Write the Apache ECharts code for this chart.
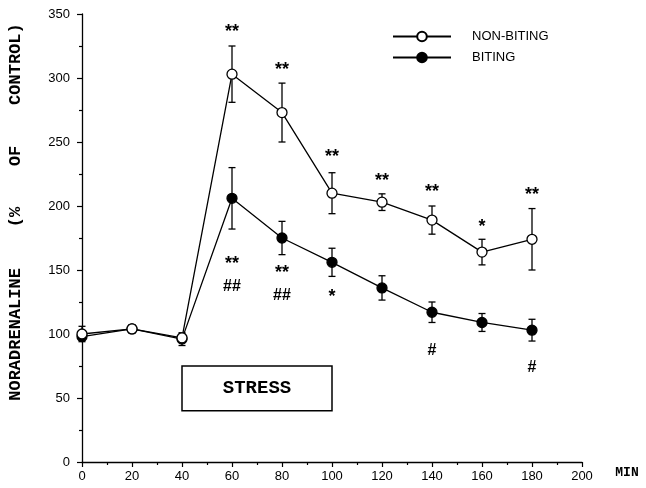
<!DOCTYPE html>
<html>
<head>
<meta charset="utf-8">
<script src="https://cdn.jsdelivr.net/npm/echarts@6/dist/echarts.min.js"></script>
<style>html,body{margin:0;padding:0;background:#fff;}#c{width:646px;height:488px;}</style>
</head>
<body>
<div id="c"></div>
<script>
// ---- data ----
const minutes = [0, 20, 40, 60, 80, 100, 120, 140, 160, 180];
const nonBiting = [100, 104, 97, 303, 273, 210, 203, 189, 164, 174];
const nonBitingErr = [6, 3, 3, 22, 23, 16, 6.5, 11, 10, 24];
const biting = [98, 104, 96, 206, 175, 156, 136, 117, 109, 103];
const bitingErr = [3, 3, 5, 24, 13, 11, 9.5, 8, 7, 8.5];
const seriesNames = ['NON-BITING', 'BITING'];
// significance marks: [minute, value-position, text]
const marksAbove = [[60, 339, '**'], [80, 309, '**'], [100, 241, '**'], [120, 223, '**'], [140, 214, '**'], [160, 187, '*'], [180, 212, '**']];
const marksBelow = [[60, 158, '**'], [60, 137, '##'], [80, 151, '**'], [80, 130, '##'], [100, 132, '*'], [140, 87, '#'], [180, 74, '#']];
// stress period box: [xStart, xEnd, yLow, yHigh, label]
const stressBox = [[40, 100, 40, 75, 'STRESS']];
const xTicks = { min: 0, max: 200, interval: 20 };
const yTicks = { min: 0, max: 350, interval: 50 };
const yTitle = 'NORADRENALINE    (%    OF    CONTROL)';
const xTitle = 'MIN';

// ---- build ----
const chart = echarts.init(document.getElementById('c'));
const lineData = (vals) => minutes.map((m, i) => [m, vals[i]]);
const errData = (vals, errs) => minutes.map((m, i) => [m, vals[i] - errs[i], vals[i] + errs[i]]);

function errRender(params, api) {
  const x = api.value(0);
  const lo = api.coord([x, api.value(1)]);
  const hi = api.coord([x, api.value(2)]);
  const w = 3.5;
  const st = { stroke: '#000', lineWidth: 1.3 };
  return {
    type: 'group',
    children: [
      { type: 'line', shape: { x1: lo[0], y1: lo[1], x2: hi[0], y2: hi[1] }, style: st },
      { type: 'line', shape: { x1: lo[0] - w, y1: lo[1], x2: lo[0] + w, y2: lo[1] }, style: st },
      { type: 'line', shape: { x1: hi[0] - w, y1: hi[1], x2: hi[0] + w, y2: hi[1] }, style: st }
    ]
  };
}

function markRender(params, api) {
  const p = api.coord([api.value(0), api.value(1)]);
  const txt = api.value(2);
  const isStar = String(txt).indexOf('*') >= 0;
  return {
    type: 'text',
    x: p[0], y: p[1] + (isStar ? 4 : 0),
    style: {
      text: txt, align: 'center', verticalAlign: 'middle',
      font: isStar ? 'bold 18px "Liberation Sans", Arial, sans-serif' : 'bold 16px "Liberation Sans", Arial, sans-serif',
      fill: '#000'
    }
  };
}

function boxRender(params, api) {
  const a = api.coord([api.value(0), api.value(3)]);
  const b = api.coord([api.value(1), api.value(2)]);
  return {
    type: 'group',
    children: [
      { type: 'rect', shape: { x: a[0], y: a[1], width: b[0] - a[0], height: b[1] - a[1] },
        style: { fill: '#fff', stroke: '#000', lineWidth: 1.5 } },
      { type: 'text', x: (a[0] + b[0]) / 2, y: (a[1] + b[1]) / 2,
        style: { text: api.value(4), align: 'center', verticalAlign: 'middle',
          font: 'bold 19px "Liberation Mono", "Courier New", monospace', fill: '#000' } }
    ]
  };
}

const sym = 10;
chart.setOption({
  animation: false,
  backgroundColor: '#fff',
  grid: { left: 82, right: 64, top: 14, bottom: 26 },
  legend: {
    data: seriesNames,
    orient: 'vertical',
    left: 392, top: 30, padding: 0,
    itemWidth: 58, itemHeight: 12, itemGap: 8,
    textStyle: { color: '#000', fontSize: 13, fontFamily: '"Liberation Sans", Arial, sans-serif', padding: [0, 0, 0, 16] }
  },
  xAxis: {
    type: 'value', min: xTicks.min, max: xTicks.max, interval: xTicks.interval,
    axisLine: { show: true, onZero: false, lineStyle: { color: '#000', width: 1.3 } },
    axisTick: { show: true, length: 5, lineStyle: { color: '#000', width: 1.2 } },
    minorTick: { show: true, splitNumber: 2, length: 3, lineStyle: { color: '#000', width: 1.2 } },
    splitLine: { show: false },
    axisLabel: { color: '#000', fontSize: 13, margin: 8, fontFamily: '"Liberation Sans", Arial, sans-serif' }
  },
  yAxis: {
    type: 'value', min: yTicks.min, max: yTicks.max, interval: yTicks.interval,
    axisLine: { show: true, lineStyle: { color: '#000', width: 1.3 } },
    axisTick: { show: true, length: 5, lineStyle: { color: '#000', width: 1.2 } },
    minorTick: { show: true, splitNumber: 2, length: 3, lineStyle: { color: '#000', width: 1.2 } },
    splitLine: { show: false },
    axisLabel: { color: '#000', fontSize: 13, margin: 12, fontFamily: '"Liberation Sans", Arial, sans-serif' }
  },
  graphic: [
    { type: 'text', x: 16, y: 212, rotation: Math.PI / 2,
      style: { text: yTitle, align: 'center', verticalAlign: 'middle',
        font: 'bold 17px "Liberation Mono", "Courier New", monospace', fill: '#000' } },
    { type: 'text', x: 627, y: 473,
      style: { text: xTitle, align: 'center', verticalAlign: 'middle',
        font: 'bold 13px "Liberation Mono", "Courier New", monospace', fill: '#000' } }
  ],
  series: [
    { type: 'custom', name: 'stress', renderItem: boxRender, data: stressBox, z: 1, silent: true },
    { type: 'custom', name: 'errNB', renderItem: errRender, data: errData(nonBiting, nonBitingErr), z: 2, silent: true },
    { type: 'custom', name: 'errB', renderItem: errRender, data: errData(biting, bitingErr), z: 2, silent: true },
    { type: 'line', name: seriesNames[0], data: lineData(nonBiting), z: 4,
      symbol: 'circle', symbolSize: sym,
      lineStyle: { color: '#000', width: 1.3 },
      itemStyle: { color: '#fff', borderColor: '#000', borderWidth: 1.3 } },
    { type: 'line', name: seriesNames[1], data: lineData(biting), z: 3,
      symbol: 'circle', symbolSize: sym,
      lineStyle: { color: '#000', width: 1.3 },
      itemStyle: { color: '#000', borderColor: '#000', borderWidth: 1.3 } },
    { type: 'custom', name: 'marks', renderItem: markRender, data: marksAbove.concat(marksBelow), z: 5, silent: true }
  ]
});
</script>
</body>
</html>
